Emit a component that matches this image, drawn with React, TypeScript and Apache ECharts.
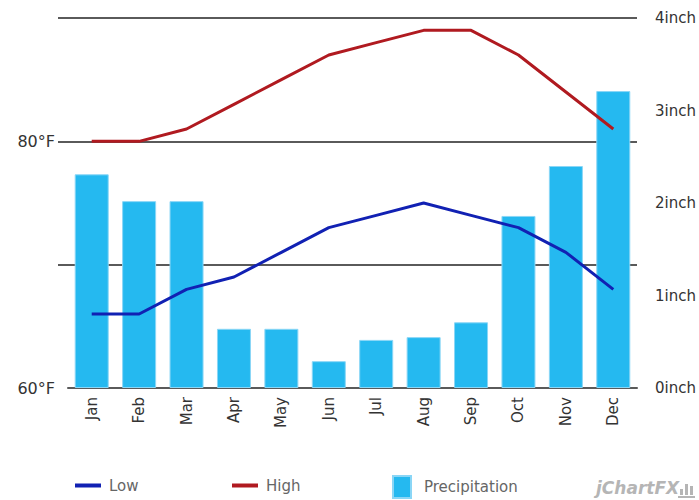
import React, { useEffect, useRef } from "react";
import * as echarts from "echarts";

// Monthly climate figures
const months = ["Jan", "Feb", "Mar", "Apr", "May", "Jun", "Jul", "Aug", "Sep", "Oct", "Nov", "Dec"];
const lowTemps = [66, 66, 68, 69, 71, 73, 74, 75, 74, 73, 71, 68];
const highTemps = [80, 80, 81, 83, 85, 87, 88, 89, 89, 87, 84, 81];
const precipitation = [2.31, 2.02, 2.02, 0.64, 0.64, 0.29, 0.52, 0.55, 0.71, 1.86, 2.4, 3.21];

// Axis ticks
const tempTicks = [70, 80, 90];
const tempLabels = [60, 80];

const FONT = "DejaVu Sans";
const GRID_COLOR = "#5a5a5a";

export default function App() {
  const ref = useRef<HTMLDivElement>(null);

  useEffect(() => {
    if (!ref.current) return;
    const chart = echarts.init(ref.current, undefined, { renderer: "svg" });
    const legendText = { fontFamily: FONT, fontSize: 15, color: "#666" };
    chart.setOption({
      animation: false,
      backgroundColor: "#ffffff",
      grid: { left: 68, right: 62, top: 18, bottom: 112, outerBoundsMode: "none" },
      legend: [
        {
          data: ["Low"],
          left: 75,
          top: 478,
          padding: 0,
          icon: "rect",
          itemWidth: 26,
          itemHeight: 4,
          textStyle: { ...legendText, padding: [0, 0, 0, 3] },
        },
        {
          data: ["High"],
          left: 232,
          top: 478,
          padding: 0,
          icon: "rect",
          itemWidth: 26,
          itemHeight: 4,
          textStyle: { ...legendText, padding: [0, 0, 0, 3] },
        },
        {
          data: ["Precipitation"],
          left: 392,
          top: 475,
          padding: 0,
          icon: "rect",
          itemWidth: 18,
          itemHeight: 22,
          textStyle: { ...legendText, padding: [0, 0, 0, 8] },
        },
      ],
      xAxis: {
        type: "category",
        data: months,
        boundaryGap: true,
        axisLine: { show: true, lineStyle: { color: GRID_COLOR, width: 2 } },
        axisTick: { show: false },
        axisLabel: { rotate: 90, margin: 9, fontFamily: FONT, fontSize: 15, color: "#333" },
      },
      yAxis: [
        {
          type: "value",
          min: 60,
          max: 90,
          interval: 10,
          position: "left",
          axisLine: { show: false },
          axisTick: {
            show: true,
            length: 10,
            customValues: tempTicks,
            lineStyle: { color: GRID_COLOR, width: 2 },
          },
          axisLabel: {
            margin: 13,
            customValues: tempLabels,
            formatter: "{value}°F",
            fontFamily: FONT,
            fontSize: 16,
            color: "#333",
          },
          splitLine: { show: true, lineStyle: { color: GRID_COLOR, width: 2 } },
        },
        {
          type: "value",
          min: 0,
          max: 4,
          interval: 1,
          position: "right",
          axisLine: { show: false },
          axisTick: { show: false },
          splitLine: { show: false },
          axisLabel: {
            margin: 18,
            formatter: "{value}inch",
            fontFamily: FONT,
            fontSize: 15,
            color: "#333",
          },
        },
      ],
      series: [
        {
          name: "Precipitation",
          type: "bar",
          yAxisIndex: 1,
          data: precipitation,
          barWidth: 34,
          itemStyle: { color: "#25b9f0", borderColor: "#8ad6f6", borderWidth: 1 },
        },
        {
          name: "Low",
          type: "line",
          data: lowTemps,
          showSymbol: false,
          symbol: "none",
          lineStyle: { color: "#1121b3", width: 3 },
          itemStyle: { color: "#1121b3" },
        },
        {
          name: "High",
          type: "line",
          data: highTemps,
          showSymbol: false,
          symbol: "none",
          lineStyle: { color: "#b01a20", width: 3 },
          itemStyle: { color: "#b01a20" },
        },
      ],
      graphic: [
        {
          type: "text",
          left: 596,
          top: 479,
          style: {
            text: "jChartFX",
            fontFamily: FONT,
            fontSize: 17,
            fontStyle: "italic",
            fontWeight: "bold",
            fill: "#b5b5b5",
          },
        },
        { type: "rect", shape: { x: 680, y: 489, width: 3, height: 6 }, style: { fill: "#b5b5b5" } },
        { type: "rect", shape: { x: 685, y: 484, width: 3, height: 11 }, style: { fill: "#b5b5b5" } },
        { type: "rect", shape: { x: 690, y: 486, width: 3, height: 9 }, style: { fill: "#b5b5b5" } },
        { type: "rect", shape: { x: 678, y: 496, width: 17, height: 2 }, style: { fill: "#b5b5b5" } },
      ],
    });
    return () => chart.dispose();
  }, []);

  return (
    <div
      ref={ref}
      style={{ position: "fixed", left: 0, top: 0, width: 699, height: 500 }}
    />
  );
}
